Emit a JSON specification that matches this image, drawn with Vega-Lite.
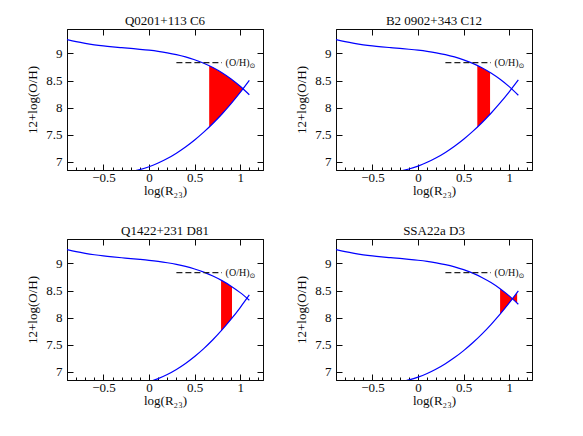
{
"$schema": "https://vega.github.io/schema/vega-lite/v6.json",
"padding": {"left": 26, "top": 14, "right": 5, "bottom": 5},
"config": {
  "font": "Liberation Serif",
  "view": {"stroke": "#0a0a0a", "strokeWidth": 1},
  "axis": {"labelFont": "Liberation Serif", "titleFont": "Liberation Serif", "labelFontSize": 13, "titleFontSize": 13, "titleFontWeight": "normal", "labelColor": "#0a0a0a", "titleColor": "#0a0a0a", "tickColor": "#0a0a0a", "tickWidth": 1, "domain": true, "domainColor": "#0a0a0a", "domainWidth": 1, "grid": false, "labelOverlap": false, "labelFlush": false},
  "title": {"font": "Liberation Serif", "fontSize": 13, "fontWeight": "normal", "color": "#0a0a0a", "anchor": "middle", "offset": 1}
},
"datasets": {
  "c1": [
    {"b":"u","x":-0.9,"y":9.2544},{"b":"u","x":-0.8,"y":9.2159},{"b":"u","x":-0.7,"y":9.1845},{"b":"u","x":-0.6,"y":9.1589},{"b":"u","x":-0.5,"y":9.1381},{"b":"u","x":-0.4,"y":9.1208},{"b":"u","x":-0.3,"y":9.1056},{"b":"u","x":-0.2,"y":9.0911},{"b":"u","x":-0.1,"y":9.0759},{"b":"u","x":0,"y":9.0587},{"b":"u","x":0.1,"y":9.0376},{"b":"u","x":0.2,"y":9.0112},{"b":"u","x":0.3,"y":8.9779},{"b":"u","x":0.4,"y":8.9357},{"b":"u","x":0.5,"y":8.8832},{"b":"u","x":0.6,"y":8.8180},{"b":"u","x":0.7,"y":8.7387},{"b":"u","x":0.8,"y":8.6431},{"b":"u","x":0.9,"y":8.5291},{"b":"u","x":1.0,"y":8.3948},{"b":"u","x":1.1,"y":8.2379},
    {"b":"l","x":-0.3,"y":6.7998},{"b":"l","x":-0.2,"y":6.8215},{"b":"l","x":-0.1,"y":6.8586},{"b":"l","x":0,"y":6.9110},{"b":"l","x":0.1,"y":6.9788},{"b":"l","x":0.2,"y":7.0619},{"b":"l","x":0.3,"y":7.1604},{"b":"l","x":0.4,"y":7.2742},{"b":"l","x":0.5,"y":7.4034},{"b":"l","x":0.6,"y":7.5479},{"b":"l","x":0.7,"y":7.7078},{"b":"l","x":0.8,"y":7.8830},{"b":"l","x":0.9,"y":8.0736},{"b":"l","x":1.0,"y":8.2795},{"b":"l","x":1.1,"y":8.5008}
  ],
  "c2": [
    {"b":"u","x":-0.9,"y":9.2543},{"b":"u","x":-0.8,"y":9.2157},{"b":"u","x":-0.7,"y":9.1844},{"b":"u","x":-0.6,"y":9.1588},{"b":"u","x":-0.5,"y":9.1381},{"b":"u","x":-0.4,"y":9.1209},{"b":"u","x":-0.3,"y":9.1058},{"b":"u","x":-0.2,"y":9.0913},{"b":"u","x":-0.1,"y":9.0761},{"b":"u","x":0,"y":9.0588},{"b":"u","x":0.1,"y":9.0376},{"b":"u","x":0.2,"y":9.0110},{"b":"u","x":0.3,"y":8.9774},{"b":"u","x":0.4,"y":8.9347},{"b":"u","x":0.5,"y":8.8815},{"b":"u","x":0.6,"y":8.8154},{"b":"u","x":0.7,"y":8.7351},{"b":"u","x":0.8,"y":8.6382},{"b":"u","x":0.9,"y":8.5226},{"b":"u","x":1.0,"y":8.3865},{"b":"u","x":1.1,"y":8.2274},
    {"b":"l","x":-0.3,"y":6.8062},{"b":"l","x":-0.2,"y":6.8299},{"b":"l","x":-0.1,"y":6.8687},{"b":"l","x":0,"y":6.9226},{"b":"l","x":0.1,"y":6.9916},{"b":"l","x":0.2,"y":7.0756},{"b":"l","x":0.3,"y":7.1748},{"b":"l","x":0.4,"y":7.2890},{"b":"l","x":0.5,"y":7.4183},{"b":"l","x":0.6,"y":7.5627},{"b":"l","x":0.7,"y":7.7222},{"b":"l","x":0.8,"y":7.8968},{"b":"l","x":0.9,"y":8.0864},{"b":"l","x":1.0,"y":8.2911},{"b":"l","x":1.1,"y":8.5109}
  ],
  "c3": [
    {"b":"u","x":-0.9,"y":9.2554},{"b":"u","x":-0.8,"y":9.2172},{"b":"u","x":-0.7,"y":9.1856},{"b":"u","x":-0.6,"y":9.1596},{"b":"u","x":-0.5,"y":9.1381},{"b":"u","x":-0.4,"y":9.1201},{"b":"u","x":-0.3,"y":9.1042},{"b":"u","x":-0.2,"y":9.0893},{"b":"u","x":-0.1,"y":9.0740},{"b":"u","x":0,"y":9.0572},{"b":"u","x":0.1,"y":9.0372},{"b":"u","x":0.2,"y":9.0126},{"b":"u","x":0.3,"y":8.9822},{"b":"u","x":0.4,"y":8.9440},{"b":"u","x":0.5,"y":8.8968},{"b":"u","x":0.6,"y":8.8384},{"b":"u","x":0.7,"y":8.7677},{"b":"u","x":0.8,"y":8.6825},{"b":"u","x":0.9,"y":8.5810},{"b":"u","x":1.0,"y":8.4614},{"b":"u","x":1.1,"y":8.3218},
    {"b":"l","x":-0.3,"y":6.7484},{"b":"l","x":-0.2,"y":6.7542},{"b":"l","x":-0.1,"y":6.7774},{"b":"l","x":0,"y":6.8182},{"b":"l","x":0.1,"y":6.8764},{"b":"l","x":0.2,"y":6.9521},{"b":"l","x":0.3,"y":7.0453},{"b":"l","x":0.4,"y":7.1558},{"b":"l","x":0.5,"y":7.2839},{"b":"l","x":0.6,"y":7.4295},{"b":"l","x":0.7,"y":7.5925},{"b":"l","x":0.8,"y":7.7730},{"b":"l","x":0.9,"y":7.9709},{"b":"l","x":1.0,"y":8.1864},{"b":"l","x":1.1,"y":8.4193}
  ],
  "c4": [
    {"b":"u","x":-0.9,"y":9.2545},{"b":"u","x":-0.8,"y":9.2160},{"b":"u","x":-0.7,"y":9.1846},{"b":"u","x":-0.6,"y":9.1590},{"b":"u","x":-0.5,"y":9.1381},{"b":"u","x":-0.4,"y":9.1207},{"b":"u","x":-0.3,"y":9.1055},{"b":"u","x":-0.2,"y":9.0910},{"b":"u","x":-0.1,"y":9.0757},{"b":"u","x":0,"y":9.0585},{"b":"u","x":0.1,"y":9.0376},{"b":"u","x":0.2,"y":9.0114},{"b":"u","x":0.3,"y":8.9783},{"b":"u","x":0.4,"y":8.9365},{"b":"u","x":0.5,"y":8.8845},{"b":"u","x":0.6,"y":8.8199},{"b":"u","x":0.7,"y":8.7414},{"b":"u","x":0.8,"y":8.6468},{"b":"u","x":0.9,"y":8.5340},{"b":"u","x":1.0,"y":8.4010},{"b":"u","x":1.1,"y":8.2458},
    {"b":"l","x":-0.3,"y":6.7950},{"b":"l","x":-0.2,"y":6.8152},{"b":"l","x":-0.1,"y":6.8510},{"b":"l","x":0,"y":6.9023},{"b":"l","x":0.1,"y":6.9692},{"b":"l","x":0.2,"y":7.0516},{"b":"l","x":0.3,"y":7.1496},{"b":"l","x":0.4,"y":7.2631},{"b":"l","x":0.5,"y":7.3922},{"b":"l","x":0.6,"y":7.5368},{"b":"l","x":0.7,"y":7.6970},{"b":"l","x":0.8,"y":7.8727},{"b":"l","x":0.9,"y":8.0639},{"b":"l","x":1.0,"y":8.2708},{"b":"l","x":1.1,"y":8.4931}
  ],
  "f1": [{"x":0.66,"hi":8.7723,"lo":7.6420},{"x":0.7,"hi":8.7387,"lo":7.7078},{"x":0.8,"hi":8.6431,"lo":7.8830},{"x":0.9,"hi":8.5291,"lo":8.0736},{"x":1.0,"hi":8.3948,"lo":8.2795},{"x":1.032,"hi":8.348,"lo":8.348}],
  "f2": [{"x":0.65,"hi":8.7772,"lo":7.6406},{"x":0.7,"hi":8.7351,"lo":7.7222},{"x":0.79,"hi":8.6487,"lo":7.8786}],
  "f3": [{"x":0.79,"hi":8.6917,"lo":7.7542},{"x":0.8,"hi":8.6825,"lo":7.7730},{"x":0.9,"hi":8.5810,"lo":7.9709},{"x":0.91,"hi":8.5699,"lo":7.9917}],
  "f4": [{"x":0.9,"hi":8.5340,"lo":8.0639},{"x":1.0,"hi":8.4010,"lo":8.2708},{"x":1.036,"hi":8.348,"lo":8.348},{"x":1.087,"hi":8.2674,"lo":8.4633}],
  "solar": [{"x1":0.3,"x2":0.8,"y":8.83,"tx":0.84}]
},
"columns": 2,
"spacing": {"row": 26, "column": 31},
"concat": [
  {"title": "Q0201+113  C6", "width": 196, "height": 141,
   "layer": [
    {"data": {"name": "f1"}, "mark": {"type": "area", "color": "#ff0000", "clip": true},
     "encoding": {"x": {"field": "x", "type": "quantitative", "scale": {"domain": [-0.9, 1.25], "nice": false, "zero": false},
        "axis": {"orient": "bottom", "title": "log(R₂₃)", "values": [-0.9,-0.8,-0.7,-0.6,-0.5,-0.4,-0.3,-0.2,-0.1,0,0.1,0.2,0.3,0.4,0.5,0.6,0.7,0.8,0.9,1,1.1,1.2], "format": "~g", "labelExpr": "abs(datum.value*2-round(datum.value*2))<0.001 ? datum.label : ''", "tickSize": {"condition": {"test": "abs(datum.value*2-round(datum.value*2))<0.001", "value": -6}, "value": -3}, "labelPadding": 7, "titlePadding": -3}},
      "y": {"field": "hi", "type": "quantitative", "scale": {"domain": [6.85, 9.45], "nice": false, "zero": false},
        "axis": {"orient": "left", "title": "12+log(O/H)", "values": [7, 7.5, 8, 8.5, 9], "format": "~g", "tickSize": -6, "labelPadding": 11, "titlePadding": 6}},
      "y2": {"field": "lo"}}},
    {"data": {"name": "c1"}, "mark": {"type": "line", "color": "#0000ff", "strokeWidth": 1.2, "clip": true, "interpolate": "monotone"},
     "encoding": {"x": {"field": "x", "type": "quantitative", "scale": {"domain": [-0.9, 1.25], "nice": false, "zero": false},
        "axis": {"orient": "top", "title": null, "labels": false, "values": [-0.5, 0, 0.5, 1], "tickSize": -6}},
      "y": {"field": "y", "type": "quantitative", "scale": {"domain": [6.85, 9.45], "nice": false, "zero": false},
        "axis": {"orient": "right", "title": null, "labels": false, "values": [7, 7.5, 8, 8.5, 9], "tickSize": -6}},
      "detail": {"field": "b"}}},
    {"data": {"name": "solar"}, "mark": {"type": "rule", "strokeDash": [6, 3], "color": "#222222", "strokeWidth": 1.2},
     "encoding": {"x": {"field": "x1", "type": "quantitative", "axis": null}, "x2": {"field": "x2"}, "y": {"field": "y", "type": "quantitative", "axis": null}}},
    {"data": {"name": "solar"}, "mark": {"type": "text", "align": "left", "baseline": "middle", "fontSize": 10, "font": "Liberation Serif", "color": "#0a0a0a"},
     "encoding": {"x": {"field": "tx", "type": "quantitative", "axis": null}, "y": {"field": "y", "type": "quantitative", "axis": null}, "text": {"value": "(O/H)"}}},
    {"data": {"name": "solar"}, "mark": {"type": "text", "align": "left", "baseline": "middle", "fontSize": 7, "dx": 24, "dy": 3, "font": "DejaVu Sans", "color": "#0a0a0a"},
     "encoding": {"x": {"field": "tx", "type": "quantitative", "axis": null}, "y": {"field": "y", "type": "quantitative", "axis": null}, "text": {"value": "⊙"}}}
   ],
   "resolve": {"axis": {"x": "independent", "y": "independent"}}},
  {"title": "B2 0902+343  C12", "width": 196, "height": 141,
   "layer": [
    {"data": {"name": "f2"}, "mark": {"type": "area", "color": "#ff0000", "clip": true},
     "encoding": {"x": {"field": "x", "type": "quantitative", "scale": {"domain": [-0.9, 1.25], "nice": false, "zero": false},
        "axis": {"orient": "bottom", "title": "log(R₂₃)", "values": [-0.9,-0.8,-0.7,-0.6,-0.5,-0.4,-0.3,-0.2,-0.1,0,0.1,0.2,0.3,0.4,0.5,0.6,0.7,0.8,0.9,1,1.1,1.2], "format": "~g", "labelExpr": "abs(datum.value*2-round(datum.value*2))<0.001 ? datum.label : ''", "tickSize": {"condition": {"test": "abs(datum.value*2-round(datum.value*2))<0.001", "value": -6}, "value": -3}, "labelPadding": 7, "titlePadding": -3}},
      "y": {"field": "hi", "type": "quantitative", "scale": {"domain": [6.85, 9.45], "nice": false, "zero": false},
        "axis": {"orient": "left", "title": "12+log(O/H)", "values": [7, 7.5, 8, 8.5, 9], "format": "~g", "tickSize": -6, "labelPadding": 11, "titlePadding": 6}},
      "y2": {"field": "lo"}}},
    {"data": {"name": "c2"}, "mark": {"type": "line", "color": "#0000ff", "strokeWidth": 1.2, "clip": true, "interpolate": "monotone"},
     "encoding": {"x": {"field": "x", "type": "quantitative", "scale": {"domain": [-0.9, 1.25], "nice": false, "zero": false},
        "axis": {"orient": "top", "title": null, "labels": false, "values": [-0.5, 0, 0.5, 1], "tickSize": -6}},
      "y": {"field": "y", "type": "quantitative", "scale": {"domain": [6.85, 9.45], "nice": false, "zero": false},
        "axis": {"orient": "right", "title": null, "labels": false, "values": [7, 7.5, 8, 8.5, 9], "tickSize": -6}},
      "detail": {"field": "b"}}},
    {"data": {"name": "solar"}, "mark": {"type": "rule", "strokeDash": [6, 3], "color": "#222222", "strokeWidth": 1.2},
     "encoding": {"x": {"field": "x1", "type": "quantitative", "axis": null}, "x2": {"field": "x2"}, "y": {"field": "y", "type": "quantitative", "axis": null}}},
    {"data": {"name": "solar"}, "mark": {"type": "text", "align": "left", "baseline": "middle", "fontSize": 10, "font": "Liberation Serif", "color": "#0a0a0a"},
     "encoding": {"x": {"field": "tx", "type": "quantitative", "axis": null}, "y": {"field": "y", "type": "quantitative", "axis": null}, "text": {"value": "(O/H)"}}},
    {"data": {"name": "solar"}, "mark": {"type": "text", "align": "left", "baseline": "middle", "fontSize": 7, "dx": 24, "dy": 3, "font": "DejaVu Sans", "color": "#0a0a0a"},
     "encoding": {"x": {"field": "tx", "type": "quantitative", "axis": null}, "y": {"field": "y", "type": "quantitative", "axis": null}, "text": {"value": "⊙"}}}
   ],
   "resolve": {"axis": {"x": "independent", "y": "independent"}}},
  {"title": "Q1422+231  D81", "width": 196, "height": 141,
   "layer": [
    {"data": {"name": "f3"}, "mark": {"type": "area", "color": "#ff0000", "clip": true},
     "encoding": {"x": {"field": "x", "type": "quantitative", "scale": {"domain": [-0.9, 1.25], "nice": false, "zero": false},
        "axis": {"orient": "bottom", "title": "log(R₂₃)", "values": [-0.9,-0.8,-0.7,-0.6,-0.5,-0.4,-0.3,-0.2,-0.1,0,0.1,0.2,0.3,0.4,0.5,0.6,0.7,0.8,0.9,1,1.1,1.2], "format": "~g", "labelExpr": "abs(datum.value*2-round(datum.value*2))<0.001 ? datum.label : ''", "tickSize": {"condition": {"test": "abs(datum.value*2-round(datum.value*2))<0.001", "value": -6}, "value": -3}, "labelPadding": 7, "titlePadding": -3}},
      "y": {"field": "hi", "type": "quantitative", "scale": {"domain": [6.85, 9.45], "nice": false, "zero": false},
        "axis": {"orient": "left", "title": "12+log(O/H)", "values": [7, 7.5, 8, 8.5, 9], "format": "~g", "tickSize": -6, "labelPadding": 11, "titlePadding": 6}},
      "y2": {"field": "lo"}}},
    {"data": {"name": "c3"}, "mark": {"type": "line", "color": "#0000ff", "strokeWidth": 1.2, "clip": true, "interpolate": "monotone"},
     "encoding": {"x": {"field": "x", "type": "quantitative", "scale": {"domain": [-0.9, 1.25], "nice": false, "zero": false},
        "axis": {"orient": "top", "title": null, "labels": false, "values": [-0.5, 0, 0.5, 1], "tickSize": -6}},
      "y": {"field": "y", "type": "quantitative", "scale": {"domain": [6.85, 9.45], "nice": false, "zero": false},
        "axis": {"orient": "right", "title": null, "labels": false, "values": [7, 7.5, 8, 8.5, 9], "tickSize": -6}},
      "detail": {"field": "b"}}},
    {"data": {"name": "solar"}, "mark": {"type": "rule", "strokeDash": [6, 3], "color": "#222222", "strokeWidth": 1.2},
     "encoding": {"x": {"field": "x1", "type": "quantitative", "axis": null}, "x2": {"field": "x2"}, "y": {"field": "y", "type": "quantitative", "axis": null}}},
    {"data": {"name": "solar"}, "mark": {"type": "text", "align": "left", "baseline": "middle", "fontSize": 10, "font": "Liberation Serif", "color": "#0a0a0a"},
     "encoding": {"x": {"field": "tx", "type": "quantitative", "axis": null}, "y": {"field": "y", "type": "quantitative", "axis": null}, "text": {"value": "(O/H)"}}},
    {"data": {"name": "solar"}, "mark": {"type": "text", "align": "left", "baseline": "middle", "fontSize": 7, "dx": 24, "dy": 3, "font": "DejaVu Sans", "color": "#0a0a0a"},
     "encoding": {"x": {"field": "tx", "type": "quantitative", "axis": null}, "y": {"field": "y", "type": "quantitative", "axis": null}, "text": {"value": "⊙"}}}
   ],
   "resolve": {"axis": {"x": "independent", "y": "independent"}}},
  {"title": "SSA22a  D3", "width": 196, "height": 141,
   "layer": [
    {"data": {"name": "f4"}, "mark": {"type": "area", "color": "#ff0000", "clip": true},
     "encoding": {"x": {"field": "x", "type": "quantitative", "scale": {"domain": [-0.9, 1.25], "nice": false, "zero": false},
        "axis": {"orient": "bottom", "title": "log(R₂₃)", "values": [-0.9,-0.8,-0.7,-0.6,-0.5,-0.4,-0.3,-0.2,-0.1,0,0.1,0.2,0.3,0.4,0.5,0.6,0.7,0.8,0.9,1,1.1,1.2], "format": "~g", "labelExpr": "abs(datum.value*2-round(datum.value*2))<0.001 ? datum.label : ''", "tickSize": {"condition": {"test": "abs(datum.value*2-round(datum.value*2))<0.001", "value": -6}, "value": -3}, "labelPadding": 7, "titlePadding": -3}},
      "y": {"field": "hi", "type": "quantitative", "scale": {"domain": [6.85, 9.45], "nice": false, "zero": false},
        "axis": {"orient": "left", "title": "12+log(O/H)", "values": [7, 7.5, 8, 8.5, 9], "format": "~g", "tickSize": -6, "labelPadding": 11, "titlePadding": 6}},
      "y2": {"field": "lo"}}},
    {"data": {"name": "c4"}, "mark": {"type": "line", "color": "#0000ff", "strokeWidth": 1.2, "clip": true, "interpolate": "monotone"},
     "encoding": {"x": {"field": "x", "type": "quantitative", "scale": {"domain": [-0.9, 1.25], "nice": false, "zero": false},
        "axis": {"orient": "top", "title": null, "labels": false, "values": [-0.5, 0, 0.5, 1], "tickSize": -6}},
      "y": {"field": "y", "type": "quantitative", "scale": {"domain": [6.85, 9.45], "nice": false, "zero": false},
        "axis": {"orient": "right", "title": null, "labels": false, "values": [7, 7.5, 8, 8.5, 9], "tickSize": -6}},
      "detail": {"field": "b"}}},
    {"data": {"name": "solar"}, "mark": {"type": "rule", "strokeDash": [6, 3], "color": "#222222", "strokeWidth": 1.2},
     "encoding": {"x": {"field": "x1", "type": "quantitative", "axis": null}, "x2": {"field": "x2"}, "y": {"field": "y", "type": "quantitative", "axis": null}}},
    {"data": {"name": "solar"}, "mark": {"type": "text", "align": "left", "baseline": "middle", "fontSize": 10, "font": "Liberation Serif", "color": "#0a0a0a"},
     "encoding": {"x": {"field": "tx", "type": "quantitative", "axis": null}, "y": {"field": "y", "type": "quantitative", "axis": null}, "text": {"value": "(O/H)"}}},
    {"data": {"name": "solar"}, "mark": {"type": "text", "align": "left", "baseline": "middle", "fontSize": 7, "dx": 24, "dy": 3, "font": "DejaVu Sans", "color": "#0a0a0a"},
     "encoding": {"x": {"field": "tx", "type": "quantitative", "axis": null}, "y": {"field": "y", "type": "quantitative", "axis": null}, "text": {"value": "⊙"}}}
   ],
   "resolve": {"axis": {"x": "independent", "y": "independent"}}}
]
}
